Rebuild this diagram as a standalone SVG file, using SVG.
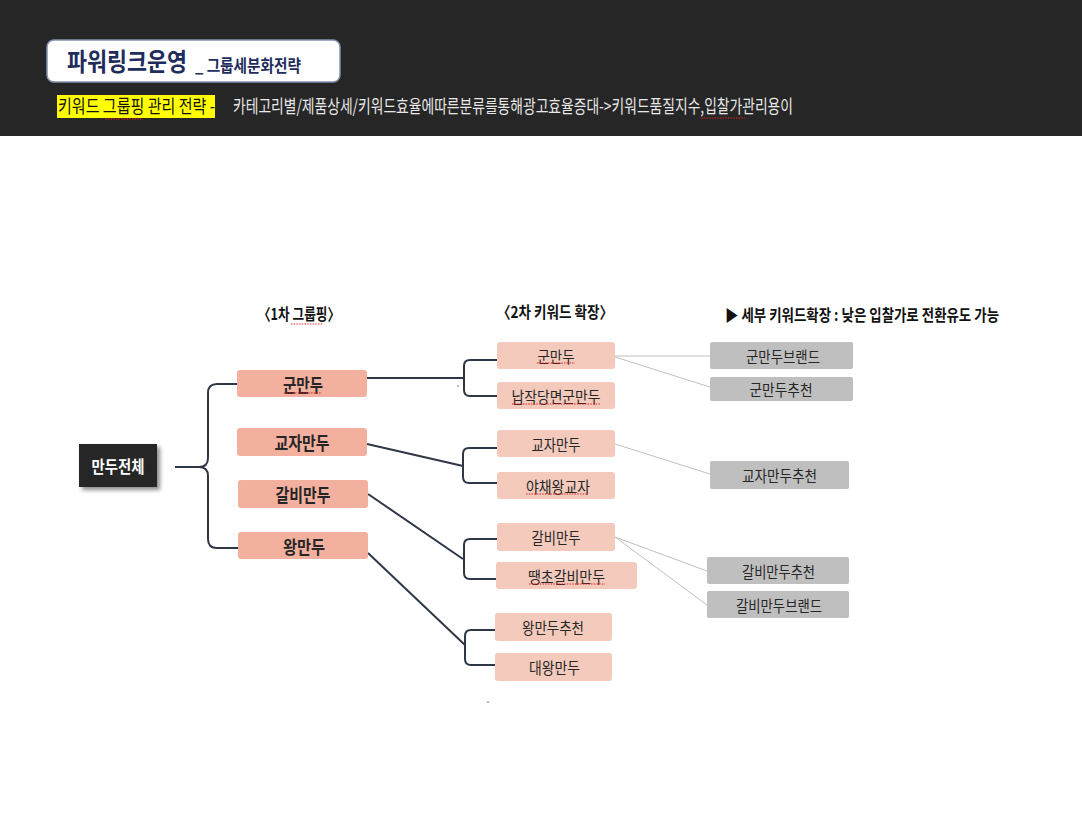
<svg xmlns="http://www.w3.org/2000/svg" width="1082" height="817" viewBox="0 0 1082 817">
<defs>
<style>
text{font-family:"Noto Sans CJK KR","Noto Sans",sans-serif;}
.l1 rect{fill:#f4b09f;}
.l2 rect{fill:#f3cabc;}
.l3 rect{fill:#bfbfbf;}
.lbl{font-size:16px;fill:#262626;text-anchor:middle;dominant-baseline:central;}
.l1 .lbl{font-weight:bold;font-size:18px;}
.l3 .lbl{font-size:15.5px;}
.thick{fill:none;stroke:#2f3747;stroke-width:2;}
.thin{fill:none;stroke:#c0c0c0;stroke-width:1;}
.sq{fill:none;stroke:#e02020;stroke-width:1;stroke-dasharray:1.5 1.2;}
.head{font-size:16px;font-weight:bold;fill:#111;}
</style>
<filter id="sh" x="-20%" y="-20%" width="150%" height="160%">
<feDropShadow dx="3" dy="3" stdDeviation="2" flood-color="#000" flood-opacity="0.45"/>
</filter>
</defs>
<rect width="1082" height="817" fill="#ffffff"/>
<g id="header">
<rect x="0" y="0" width="1082" height="136" fill="#262626"/>
<rect x="47" y="40" width="293" height="42" rx="7" fill="#ffffff" stroke="#8393b3" stroke-width="1.5"/>
<text x="67" y="71" font-size="25" font-weight="bold" fill="#1f2d5c" textLength="120" lengthAdjust="spacingAndGlyphs">파워링크운영</text>
<text x="195" y="72" font-size="17" font-weight="bold" fill="#1f2d5c" textLength="106" lengthAdjust="spacingAndGlyphs">_ 그룹세분화전략</text>
<rect x="57" y="95" width="158" height="23" fill="#ffff00"/>
<text x="58" y="113" font-size="18" fill="#111" textLength="157" lengthAdjust="spacingAndGlyphs">키워드 그룹핑 관리 전략 -</text>
<text x="233" y="113" font-size="18" fill="#e8e8e8" textLength="560" lengthAdjust="spacingAndGlyphs">카테고리별/제품상세/키워드효율에따른분류를통해광고효율증대-&gt;키워드품질지수,입찰가관리용이</text>
<path class="sq" d="M105,119 L143,119"/>
<path class="sq" d="M701,118 L745,118"/>
</g>
<g id="headings">
<text class="head" x="258" y="320" textLength="82" lengthAdjust="spacingAndGlyphs">〈1차 그룹핑〉</text>
<path class="sq" d="M291,324 L323,324"/>
<text class="head" x="497" y="318" textLength="116" lengthAdjust="spacingAndGlyphs">〈2차 키워드 확장〉</text>
<text class="head" x="725" y="321" font-size="18" textLength="274" lengthAdjust="spacingAndGlyphs">▶ 세부 키워드확장 : 낮은 입찰가로 전환유도 가능</text>
</g>
<g id="connectors">
<path class="thick" d="M175,467 L199,467 Q208,467 208,458 L208,393 Q208,384 217,384 L237,384"/>
<path class="thick" d="M199,467 Q208,467 208,476 L208,539 Q208,548 217,548 L238,548"/>
<path class="thick" d="M367,378 L463,378"/>
<path class="thick" d="M497,360 L470,360 Q464,360 464,366 L464,390 Q464,396 470,396 L497,396"/>
<path class="thick" d="M367,444 L463,466"/>
<path class="thick" d="M497,448 L469,448 Q463,448 463,454 L463,477 Q463,483 469,483 L497,483"/>
<path class="thick" d="M368,494 L463,559"/>
<path class="thick" d="M497,539 L470,539 Q464,539 464,545 L464,573 Q464,579 470,579 L496,579"/>
<path class="thick" d="M368,553 L465,645"/>
<path class="thick" d="M495,630 L471,630 Q465,630 465,636 L465,659 Q465,665 471,665 L495,665"/>
<path class="thin" d="M615,356 L710,356"/>
<path class="thin" d="M615,357 L710,387"/>
<path class="thin" d="M615,444 L710,474"/>
<path class="thin" d="M615,537 L707,571"/>
<path class="thin" d="M615,537 L707,605"/>
<circle cx="458" cy="386" r="0.8" fill="#666"/>
<circle cx="488" cy="702" r="0.8" fill="#666"/>
</g>
<g id="n-root">
<rect x="79" y="444" width="78" height="43" fill="#262626" filter="url(#sh)"/>
<text x="118" y="465.5" font-size="17" font-weight="bold" fill="#ffffff" text-anchor="middle" dominant-baseline="central" textLength="53" lengthAdjust="spacingAndGlyphs">만두전체</text>
</g>
<g id="n-gun" class="l1"><rect x="237" y="370" width="130" height="27" rx="3"/><text class="lbl" x="303" y="383.5" textLength="40" lengthAdjust="spacingAndGlyphs">군만두</text><path class="sq" d="M284,393 L322,393"/></g>
<g id="n-gyoja" class="l1"><rect x="237" y="428" width="130" height="28" rx="3"/><text class="lbl" x="302" y="442" textLength="55" lengthAdjust="spacingAndGlyphs">교자만두</text></g>
<g id="n-galbi" class="l1"><rect x="238" y="480" width="130" height="28" rx="3"/><text class="lbl" x="303" y="494" textLength="55" lengthAdjust="spacingAndGlyphs">갈비만두</text></g>
<g id="n-wang" class="l1"><rect x="238" y="532" width="130" height="27" rx="3"/><text class="lbl" x="304" y="545.5" textLength="42" lengthAdjust="spacingAndGlyphs">왕만두</text></g>
<g id="n-gun2" class="l2"><rect x="497" y="342" width="118" height="27" rx="3"/><text class="lbl" x="556" y="355.5" textLength="37" lengthAdjust="spacingAndGlyphs">군만두</text><path class="sq" d="M537,363 L575,363"/></g>
<g id="n-napjak" class="l2"><rect x="497" y="382" width="118" height="27" rx="3"/><text class="lbl" x="556" y="395.5" textLength="89" lengthAdjust="spacingAndGlyphs">납작당면군만두</text><path class="sq" d="M512,404 L600,404"/></g>
<g id="n-gyoja2" class="l2"><rect x="497" y="430" width="118" height="27" rx="3"/><text class="lbl" x="556" y="443.5" textLength="49" lengthAdjust="spacingAndGlyphs">교자만두</text></g>
<g id="n-yachae" class="l2"><rect x="497" y="472" width="118" height="27" rx="3"/><text class="lbl" x="558" y="485.5" textLength="64" lengthAdjust="spacingAndGlyphs">야채왕교자</text><path class="sq" d="M526,494 L588,494"/></g>
<g id="n-galbi2" class="l2"><rect x="497" y="523" width="118" height="28" rx="3"/><text class="lbl" x="556" y="537" textLength="49" lengthAdjust="spacingAndGlyphs">갈비만두</text></g>
<g id="n-ttaengcho" class="l2"><rect x="496" y="562" width="141" height="27" rx="3"/><text class="lbl" x="566.5" y="575.5" textLength="77" lengthAdjust="spacingAndGlyphs">땡초갈비만두</text><path class="sq" d="M529,584 L605,584"/></g>
<g id="n-wangrec" class="l2"><rect x="495" y="613" width="117" height="28" rx="3"/><text class="lbl" x="553" y="627" textLength="62" lengthAdjust="spacingAndGlyphs">왕만두추천</text></g>
<g id="n-daewang" class="l2"><rect x="495" y="653" width="117" height="28" rx="3"/><text class="lbl" x="554.5" y="667" textLength="51" lengthAdjust="spacingAndGlyphs">대왕만두</text></g>
<g id="n-gunbrand" class="l3"><rect x="710" y="342" width="143" height="27" rx="2"/><text class="lbl" x="783" y="355.5" textLength="74" lengthAdjust="spacingAndGlyphs">군만두브랜드</text></g>
<g id="n-gunrec" class="l3"><rect x="710" y="377" width="143" height="24" rx="2"/><text class="lbl" x="781" y="389" textLength="63" lengthAdjust="spacingAndGlyphs">군만두추천</text></g>
<g id="n-gyojarec" class="l3"><rect x="710" y="461" width="139" height="28" rx="2"/><text class="lbl" x="779.5" y="475" textLength="75" lengthAdjust="spacingAndGlyphs">교자만두추천</text></g>
<g id="n-galbirec" class="l3"><rect x="707" y="557" width="142" height="27" rx="2"/><text class="lbl" x="778.5" y="570.5" textLength="73" lengthAdjust="spacingAndGlyphs">갈비만두추천</text></g>
<g id="n-galbibrand" class="l3"><rect x="707" y="591" width="142" height="27" rx="2"/><text class="lbl" x="779" y="604.5" textLength="86" lengthAdjust="spacingAndGlyphs">갈비만두브랜드</text></g>
</svg>
